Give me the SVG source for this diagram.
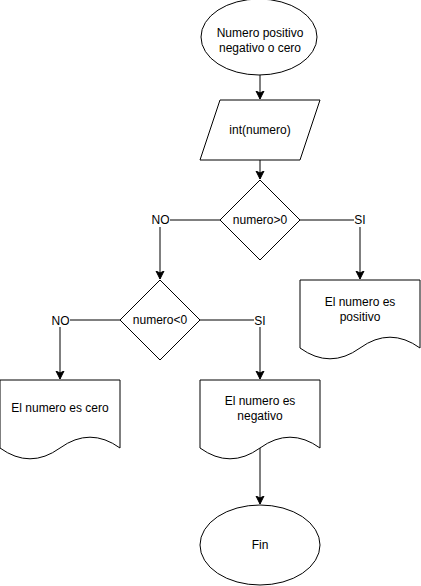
<svg xmlns="http://www.w3.org/2000/svg" width="421" height="586" viewBox="0 0 421 586">
<style>
.s{fill:#fff;stroke:#000;stroke-width:1}
.t{font-family:"Liberation Sans",Arial,sans-serif;font-size:12px;fill:#000;text-anchor:middle;dominant-baseline:central}
.c{fill:none;stroke:#000;stroke-width:1}
.lb{fill:#fff}
</style>
<defs>
<marker id="a" markerWidth="10" markerHeight="10" refX="8" refY="5" orient="auto" markerUnits="userSpaceOnUse">
<path d="M0,1 L8,5 L0,9 L2,5 Z" fill="#000" stroke="#000" stroke-width="1"/>
</marker>
</defs>
<rect width="421" height="586" fill="#fff"/>
<g id="connectors">
<path class="c" d="M260,75 V99" marker-end="url(#a)"/>
<path class="c" d="M260,160 V179" marker-end="url(#a)"/>
<path class="c" d="M220,220 H160 V279" marker-end="url(#a)"/>
<path class="c" d="M300,220 H360 V279" marker-end="url(#a)"/>
<path class="c" d="M120,320 H60 V379" marker-end="url(#a)"/>
<path class="c" d="M200,320 H260 V379" marker-end="url(#a)"/>
<path class="c" d="M260,448 V504" marker-end="url(#a)"/>
<rect class="lb" x="151" y="213" width="19" height="14"/>
<text class="t" x="160.5" y="220">NO</text>
<rect class="lb" x="354" y="213" width="12" height="14"/>
<text class="t" x="360" y="220">SI</text>
<rect class="lb" x="51" y="313" width="19" height="14"/>
<text class="t" x="60.5" y="321">NO</text>
<rect class="lb" x="254" y="313" width="12" height="14"/>
<text class="t" x="260" y="321">SI</text>
</g>
<g id="start">
<ellipse class="s" cx="259" cy="37" rx="58" ry="38"/>
<text class="t" x="260" y="33">Numero positivo</text>
<text class="t" x="260" y="48">negativo o cero</text>
</g>
<g id="input">
<path class="s" d="M220,100 H320 L300,160 H200 Z"/>
<text class="t" x="260" y="130">int(numero)</text>
</g>
<g id="dec1">
<path class="s" d="M260,180 L300,220 L260,260 L220,220 Z"/>
<text class="t" x="260" y="220">numero&gt;0</text>
</g>
<g id="dec2">
<path class="s" d="M160,280 L200,320 L160,360 L120,320 Z"/>
<text class="t" x="160" y="320">numero&lt;0</text>
</g>
<g id="positivo">
<path class="s" d="M300,280 H420 V348 Q390,326.4 360,348 Q330,369.6 300,348 Z"/>
<text class="t" x="360" y="302">El numero es</text>
<text class="t" x="360" y="317">positivo</text>
</g>
<g id="cero">
<path class="s" d="M0,380 H120 V448 Q90,426.4 60,448 Q30,469.6 0,448 Z"/>
<text class="t" x="60" y="408">El numero es cero</text>
</g>
<g id="negativo">
<path class="s" d="M200,380 H320 V448 Q290,426.4 260,448 Q230,469.6 200,448 Z"/>
<text class="t" x="260" y="401">El numero es</text>
<text class="t" x="260" y="416">negativo</text>
</g>
<g id="fin">
<ellipse class="s" cx="260" cy="545" rx="60" ry="40"/>
<text class="t" x="260" y="545">Fin</text>
</g>
</svg>
